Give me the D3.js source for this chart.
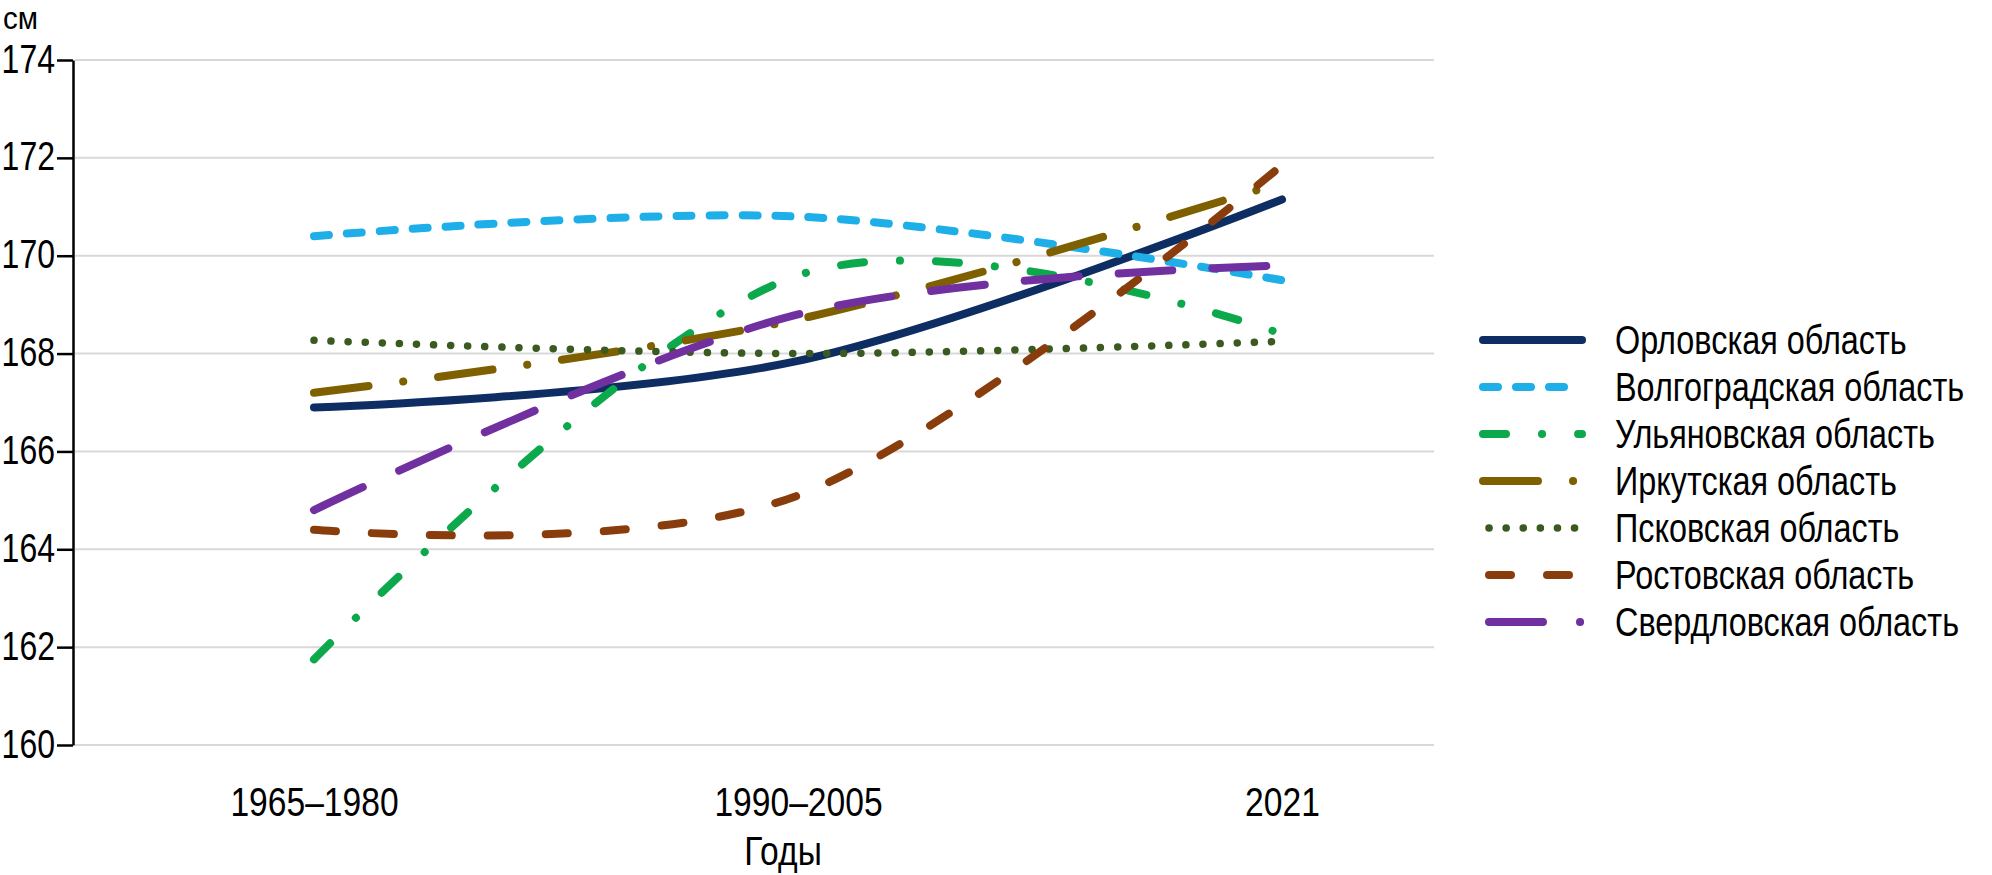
<!DOCTYPE html>
<html>
<head>
<meta charset="utf-8">
<script src="https://cdn.jsdelivr.net/npm/d3@7"></script>
<style>
  html, body { margin: 0; padding: 0; background: #ffffff; }
  svg { display: block; }
  text { font-family: "Liberation Sans", Arial, sans-serif; fill: #000; }
</style>
</head>
<body>
<svg id="chart" width="1992" height="875"></svg>
<script>
// ---- data ----
const categories = ["1965–1980", "1990–2005", "2021"];
const seriesNames = [
  "Орловская область",
  "Волгоградская область",
  "Ульяновская область",
  "Иркутская область",
  "Псковская область",
  "Ростовская область",
  "Свердловская область"
];
const orlovsk     = [166.9, 167.85, 171.15];
const volgograd   = [170.4, 170.8, 169.5];
const ulyanovsk   = [161.75, 169.6, 168.4];
const irkutsk     = [167.2, 168.7, 171.5];
const pskov       = [168.27, 168.0, 168.25];
const rostov      = [164.4, 165.1, 171.85];
const sverdlovsk  = [164.8, 168.8, 169.8];
const yTicks = [160, 162, 164, 166, 168, 170, 172, 174];
const yUnit = "см";
const xTitle = "Годы";

const seriesValues = [orlovsk, volgograd, ulyanovsk, irkutsk, pskov, rostov, sverdlovsk];

// ---- styles ----
const colors = ["#0e2d63", "#1eaee8", "#0ca84c", "#7f6000", "#3a5a1f", "#8a3d0c", "#7030a0"];
const dashes = [null, "15,18", "23,36,0.1,36", "55,35,0.1,35", "0.1,17", "22,36", "54,40"];
const legendDashes = [null, "15,18", "23,36,0.1,36", "55,35,0.1,35", "0.1,17", "22,36", "54,37,0.1,100"];
const widths = [8, 8, 8, 8, 7.5, 8, 8];
const FS = 41;
const SX_TICK = 0.8, SX_X = 0.82, SX_LEG = 0.79;

const svg = d3.select("#chart");
svg.append("rect").attr("width", 1992).attr("height", 875).attr("fill", "#fff");

const x = d3.scalePoint().domain(categories).range([314, 1282]);
const y = d3.scaleLinear().domain([160, 174]).range([745, 60]);

const axisX = 73, gridRight = 1434;

// gridlines
svg.append("g").selectAll("line").data(yTicks).join("line")
  .attr("x1", axisX + 2).attr("x2", gridRight)
  .attr("y1", d => y(d)).attr("y2", d => y(d))
  .attr("stroke", "#d9d9d9").attr("stroke-width", 2);

// y axis
const gy = svg.append("g").attr("transform", `translate(${axisX},0)`)
  .call(d3.axisLeft(y).tickValues(yTicks).tickSize(16).tickSizeOuter(0).tickPadding(2).tickFormat(d3.format("d")));
gy.select(".domain").attr("stroke", "#000").attr("stroke-width", 2.5);
gy.selectAll(".tick line").attr("stroke", "#000").attr("stroke-width", 2.5);
gy.selectAll(".tick text")
  .attr("font-size", 40).attr("font-family", null)
  .attr("x", -18 / SX_TICK).attr("dy", "0.3em")
  .attr("transform", `scale(${SX_TICK},1)`);

// x axis (labels only)
const gx = svg.append("g").attr("transform", `translate(0,${y(160)})`)
  .call(d3.axisBottom(x).tickSize(0).tickPadding(42));
gx.select(".domain").remove();
gx.selectAll(".tick text")
  .attr("font-size", FS).attr("font-family", null)
  .attr("transform", `scale(${SX_X},1)`);

// unit & axis title
svg.append("text").attr("transform", `translate(3,29) scale(0.92,1)`)
  .attr("font-size", 32).text(yUnit);
svg.append("text").attr("transform", `translate(783,865) scale(${SX_X},1)`)
  .attr("text-anchor", "middle").attr("font-size", FS).text(xTitle);

// lines
const line = d3.line()
  .x((d, i) => x(categories[i]))
  .y(d => y(d))
  .curve(d3.curveCardinal.tension(0));

svg.append("g").selectAll("path").data(seriesValues).join("path")
  .attr("d", d => line(d))
  .attr("fill", "none")
  .attr("stroke", (d, i) => colors[i])
  .attr("stroke-width", (d, i) => widths[i])
  .attr("stroke-linecap", "round")
  .attr("stroke-linejoin", "round")
  .attr("stroke-dasharray", (d, i) => dashes[i]);

// legend
const legend = svg.append("g");
const lg = legend.selectAll("g").data(seriesNames).join("g")
  .attr("transform", (d, i) => `translate(0,${340 + i * 47})`);
lg.append("line")
  .attr("x1", (d, i) => (i === 4 || i === 5 || i === 6) ? 1489 : 1483)
  .attr("x2", 1582).attr("y1", 0).attr("y2", 0)
  .attr("stroke", (d, i) => colors[i])
  .attr("stroke-width", (d, i) => widths[i])
  .attr("stroke-linecap", "round")
  .attr("stroke-dasharray", (d, i) => legendDashes[i]);
lg.append("text").attr("transform", `translate(1615,0) scale(${SX_LEG},1)`)
  .attr("dy", "0.33em")
  .attr("font-size", FS).text(d => d);
</script>
</body>
</html>
